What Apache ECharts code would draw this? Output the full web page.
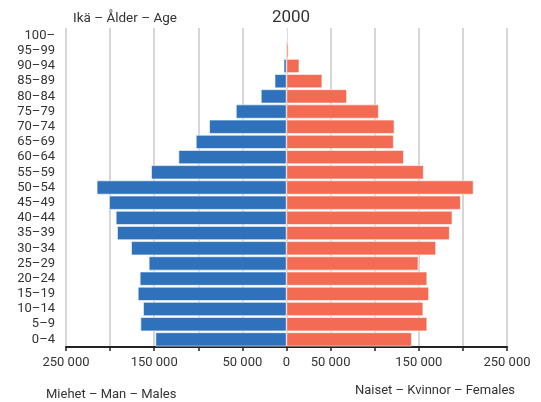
<!DOCTYPE html>
<html>
<head>
<meta charset="utf-8">
<script src="https://cdn.jsdelivr.net/npm/echarts@6/dist/echarts.min.js"></script>
<style>
  html, body { margin: 0; padding: 0; background: #fff; }
  #chart { width: 541px; height: 402px; }
</style>
</head>
<body>
<div id="chart"></div>
<script>
// ikäryhmät alhaalta ylös
var ageGroups = ['0–4', '5–9', '10–14', '15–19', '20–24', '25–29', '30–34', '35–39', '40–44', '45–49',
  '50–54', '55–59', '60–64', '65–69', '70–74', '75–79', '80–84', '85–89', '90–94', '95–99', '100–']
var males = [148500, 165500, 162500, 168500, 166300, 156100, 176100, 192000, 193500, 201100,
  215100, 153400, 122400, 102700, 87600, 57300, 29000, 13400, 3200, 800, 100]
var females = [142000, 159500, 155000, 161500, 159500, 149500, 169500, 185000, 188000, 197500,
  212000, 155500, 133000, 121500, 122300, 104500, 68500, 40500, 14500, 2200, 400]
var xTicksShown = [-250000, -150000, -50000, 0, 50000, 150000, 250000]

var font = 'Roboto'
var textColor = '#333'

function fmt(v) {
  if (xTicksShown.indexOf(v) < 0) return ''
  return String(Math.abs(v)).replace(/\B(?=(\d{3})+(?!\d))/g, ' ')
}

var chart = echarts.init(document.getElementById('chart'))
chart.setOption({
  animation: false,
  textStyle: { fontFamily: font },
  title: [
    { text: '2000', left: 286, top: 4, textAlign: 'center',
      textStyle: { fontSize: 17, fontWeight: 'normal', color: textColor, fontFamily: font } },
    { text: 'Ikä – Ålder – Age', left: 68, top: 7,
      textStyle: { fontSize: 13.5, fontWeight: 'normal', color: textColor, fontFamily: font } },
    { text: 'Miehet – Man – Males', left: 41, top: 383,
      textStyle: { fontSize: 13, fontWeight: 'normal', color: textColor, fontFamily: font } },
    { text: 'Naiset – Kvinnor – Females', right: 21, top: 379,
      textStyle: { fontSize: 13, fontWeight: 'normal', color: textColor, fontFamily: font } }
  ],
  grid: { left: 66, right: 34, top: 28, bottom: 55 },
  xAxis: {
    type: 'value',
    min: -250000,
    max: 250000,
    interval: 50000,
    axisLine: { show: true, lineStyle: { color: '#222', width: 2 } },
    axisTick: { show: true, length: 4, lineStyle: { color: '#222', width: 1.5 } },
    axisLabel: { formatter: fmt, fontSize: 13, color: textColor, margin: 9, fontFamily: font },
    splitLine: { show: true, lineStyle: { color: '#c8c8c8', width: 1.5 } }
  },
  yAxis: {
    type: 'category',
    data: ageGroups,
    axisLine: { show: false },
    axisTick: { show: false },
    axisLabel: { interval: 0, fontSize: 13, color: textColor, margin: 11, fontFamily: font }
  },
  series: [
    {
      name: 'Miehet',
      type: 'bar',
      data: males.map(function (v) { return -v }),
      barCategoryGap: '8%',
      barGap: '-100%',
      itemStyle: { color: '#2F72BB', borderColor: '#fff', borderWidth: 0.6 }
    },
    {
      name: 'Naiset',
      type: 'bar',
      data: females,
      barCategoryGap: '8%',
      barGap: '-100%',
      itemStyle: { color: '#F36B53', borderColor: '#fff', borderWidth: 0.6 }
    }
  ]
})
</script>
</body>
</html>
